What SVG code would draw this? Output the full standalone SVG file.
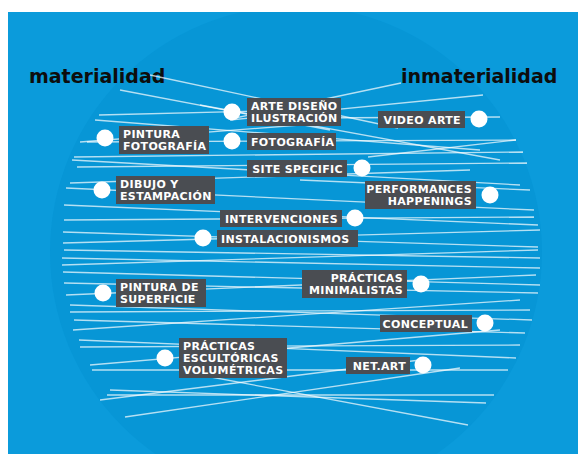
<svg xmlns="http://www.w3.org/2000/svg" width="578" height="454" viewBox="0 0 578 454">
<defs>
<clipPath id="frame"><rect x="8" y="12" width="570" height="442"/></clipPath>
</defs>
<style>
.bg{fill:#0b9bdb}
.disc{fill:#0796d6}
.ttl{font-family:"DejaVu Sans",Verdana,sans-serif;font-weight:bold;font-size:19px;fill:#0d0d0d}
.box{fill:#4a4d52}
.lbl{font-family:"DejaVu Sans",Verdana,sans-serif;font-weight:bold;font-size:11px;letter-spacing:0.35px;fill:#ffffff}
.end{text-anchor:end}
.dot{fill:#ffffff}
.ln line{stroke:#ffffff;stroke-opacity:0.7;stroke-width:1.3}
</style>
<rect x="0" y="0" width="578" height="454" fill="#ffffff"/>
<rect class="bg" x="8" y="12" width="570" height="442"/>
<circle class="disc" cx="296" cy="252" r="246" clip-path="url(#frame)"/>
<text class="ttl" x="29" y="83">materialidad</text>
<text class="ttl" x="401" y="83">inmaterialidad</text>
<g id="connectors" class="ln">
<line x1="150" y1="75" x2="398" y2="128"/>
<line x1="401" y1="83" x2="235" y2="118"/>
<line x1="120" y1="90" x2="330" y2="130"/>
<line x1="99" y1="115" x2="300" y2="110"/>
<line x1="230" y1="120" x2="483" y2="95"/>
<line x1="300" y1="118" x2="500" y2="117"/>
<line x1="80" y1="142" x2="300" y2="125"/>
<line x1="87" y1="142" x2="516" y2="140"/>
<line x1="368" y1="157" x2="516" y2="140"/>
<line x1="95" y1="120" x2="480" y2="150"/>
<line x1="200" y1="105" x2="500" y2="160"/>
<line x1="74" y1="157" x2="523" y2="152"/>
<line x1="77" y1="167" x2="527" y2="163"/>
<line x1="72" y1="160" x2="520" y2="185"/>
<line x1="70" y1="183" x2="470" y2="170"/>
<line x1="66" y1="188" x2="534" y2="210"/>
<line x1="300" y1="180" x2="530" y2="190"/>
<line x1="64" y1="205" x2="538" y2="225"/>
<line x1="64" y1="220" x2="534" y2="217"/>
<line x1="63" y1="232" x2="538" y2="247"/>
<line x1="63" y1="243" x2="540" y2="230"/>
<line x1="62" y1="258" x2="540" y2="268"/>
<line x1="62" y1="265" x2="538" y2="250"/>
<line x1="63" y1="272" x2="540" y2="285"/>
<line x1="64" y1="250" x2="540" y2="258"/>
<line x1="64" y1="283" x2="538" y2="293"/>
<line x1="66" y1="295" x2="536" y2="275"/>
<line x1="70" y1="305" x2="532" y2="320"/>
<line x1="70" y1="312" x2="530" y2="310"/>
<line x1="74" y1="320" x2="525" y2="333"/>
<line x1="73" y1="330" x2="520" y2="300"/>
<line x1="79" y1="340" x2="516" y2="358"/>
<line x1="80" y1="347" x2="520" y2="345"/>
<line x1="92" y1="370" x2="508" y2="370"/>
<line x1="90" y1="365" x2="500" y2="330"/>
<line x1="107" y1="395" x2="494" y2="395"/>
<line x1="110" y1="390" x2="486" y2="403"/>
<line x1="125" y1="417" x2="460" y2="368"/>
<line x1="200" y1="375" x2="468" y2="425"/>
<line x1="100" y1="400" x2="420" y2="360"/>
</g>
<g id="n1"><circle class="dot" cx="232" cy="112" r="8.5"/><rect class="box" x="247" y="98" width="94" height="28"/><text class="lbl" x="251" y="110"><tspan x="251">ARTE DISEÑO</tspan><tspan x="251" dy="12">ILUSTRACIÓN</tspan></text></g>
<g id="n2"><circle class="dot" cx="232" cy="141" r="8.5"/><rect class="box" x="247" y="133" width="89" height="17"/><text class="lbl" x="251" y="145.5">FOTOGRAFÍA</text></g>
<g id="n3"><circle class="dot" cx="105" cy="138" r="8.5"/><rect class="box" x="119" y="126" width="90" height="28"/><text class="lbl" x="123" y="138"><tspan x="123">PINTURA</tspan><tspan x="123" dy="12">FOTOGRAFÍA</tspan></text></g>
<g id="n4"><circle class="dot" cx="479" cy="119" r="8.5"/><rect class="box" x="378" y="111" width="87" height="17"/><text class="lbl end" x="461" y="123.5">VIDEO ARTE</text></g>
<g id="n5"><circle class="dot" cx="362" cy="168" r="8.5"/><rect class="box" x="247" y="160" width="100" height="17"/><text class="lbl end" x="343" y="172.5">SITE SPECIFIC</text></g>
<g id="n6"><circle class="dot" cx="102" cy="190" r="8.5"/><rect class="box" x="116" y="176" width="99" height="28"/><text class="lbl" x="120" y="188"><tspan x="120">DIBUJO Y</tspan><tspan x="120" dy="12">ESTAMPACIÓN</tspan></text></g>
<g id="n7"><circle class="dot" cx="490" cy="195" r="8.5"/><rect class="box" x="365" y="181" width="111" height="28"/><text class="lbl end" x="472" y="193"><tspan x="472">PERFORMANCES</tspan><tspan x="472" dy="12">HAPPENINGS</tspan></text></g>
<g id="n8"><circle class="dot" cx="355" cy="218" r="8.5"/><rect class="box" x="220" y="210" width="122" height="17"/><text class="lbl end" x="338" y="222.5">INTERVENCIONES</text></g>
<g id="n9"><circle class="dot" cx="203" cy="238" r="8.5"/><rect class="box" x="217" y="230" width="141" height="17"/><text class="lbl" x="221" y="242.5">INSTALACIONISMOS</text></g>
<g id="n10"><circle class="dot" cx="421" cy="284" r="8.5"/><rect class="box" x="302" y="270" width="105" height="28"/><text class="lbl end" x="403" y="282"><tspan x="403">PRÁCTICAS</tspan><tspan x="403" dy="12">MINIMALISTAS</tspan></text></g>
<g id="n11"><circle class="dot" cx="103" cy="293" r="8.5"/><rect class="box" x="116" y="279" width="90" height="28"/><text class="lbl" x="120" y="291"><tspan x="120">PINTURA DE</tspan><tspan x="120" dy="12">SUPERFICIE</tspan></text></g>
<g id="n12"><circle class="dot" cx="485" cy="323" r="8.5"/><rect class="box" x="380" y="315" width="92" height="17"/><text class="lbl end" x="468" y="327.5">CONCEPTUAL</text></g>
<g id="n13"><circle class="dot" cx="165" cy="358" r="8.5"/><rect class="box" x="179" y="338" width="108" height="40"/><text class="lbl" x="183" y="350"><tspan x="183">PRÁCTICAS</tspan><tspan x="183" dy="12">ESCULTÓRICAS</tspan><tspan x="183" dy="12">VOLUMÉTRICAS</tspan></text></g>
<g id="n14"><circle class="dot" cx="423" cy="365" r="8.5"/><rect class="box" x="346" y="357" width="64" height="17"/><text class="lbl end" x="406" y="369.5">NET.ART</text></g>
</svg>
